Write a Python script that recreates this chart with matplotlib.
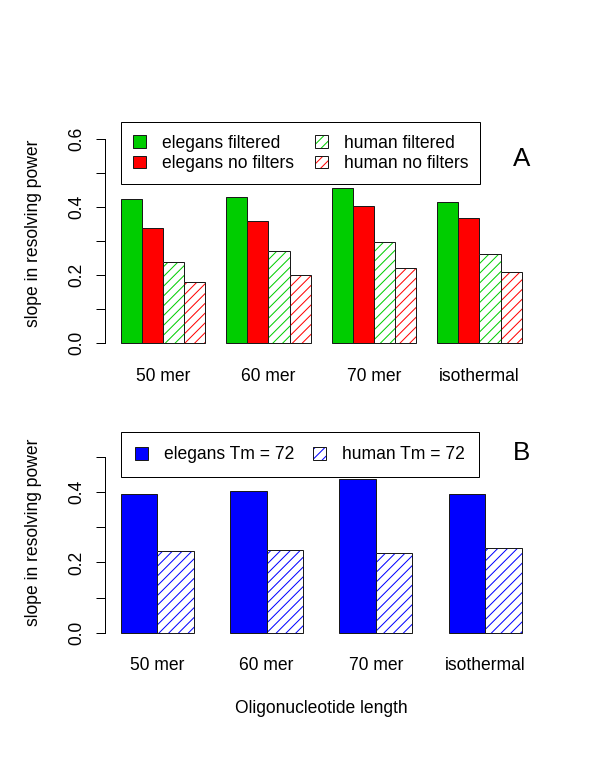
import numpy as np
import matplotlib
matplotlib.use("Agg")
import matplotlib.pyplot as plt

# ---------------- data ----------------
categories = ["50 mer", "60 mer", "70 mer", "isothermal"]
elegans_filtered = [0.424, 0.430, 0.457, 0.415]
elegans_no_filters = [0.339, 0.360, 0.402, 0.367]
human_filtered = [0.240, 0.272, 0.297, 0.263]
human_no_filters = [0.179, 0.200, 0.221, 0.208]
elegans_tm72 = [0.394, 0.403, 0.439, 0.394]
human_tm72 = [0.232, 0.235, 0.226, 0.240]

labels_a = ["elegans filtered", "elegans no filters", "human filtered", "human no filters"]
labels_b = ["elegans Tm = 72", "human Tm = 72"]
yticks_a = [0.0, 0.1, 0.2, 0.3, 0.4, 0.5, 0.6]
yticklabels_a = ["0.0", "", "0.2", "", "0.4", "", "0.6"]
yticks_b = [0.0, 0.1, 0.2, 0.3, 0.4, 0.5]
yticklabels_b = ["0.0", "", "0.2", "", "0.4", ""]
ylabel = "slope in resolving power"
xlabel = "Oligonucleotide length"

# ---------------- style ----------------
W, H, DPI = 600, 776, 88
def pt(px):
    return px * 72.0 / DPI
def fx(px):
    return px / W
def fy(py):
    return 1 - py / H

GREEN, RED, BLUE = "#00CD00", "#FF0000", "#0000FF"
EDGE = "#1a1a1a"
FS = pt(17.5)
plt.rcParams["font.family"] = ["Liberation Sans", "DejaVu Sans"]
plt.rcParams["hatch.linewidth"] = pt(1.0)

fig = plt.figure(figsize=(W / DPI, H / DPI), dpi=DPI)
fig.patch.set_facecolor("white")

# axes placement in pixels
left_px, right_px = 104.7, 537.7
axA = fig.add_axes([fx(left_px), fy(351.8), (right_px - left_px) / W, (351.8 - 122.0) / H])
axB = fig.add_axes([fx(left_px), fy(640.4), (right_px - left_px) / W, (640.4 - 432.6) / H])


def hatched_bars(ax, x, h, color):
    hb = ax.bar(x, h, width=1.0, align="edge", facecolor="white",
                edgecolor=color, linewidth=0, hatch="///")
    ob = ax.bar(x, h, width=1.0, align="edge", fill=False,
                edgecolor=EDGE, linewidth=pt(1.0))
    return (hb, ob)


def solid_bars(ax, x, h, color):
    return ax.bar(x, h, width=1.0, align="edge", facecolor=color,
                  edgecolor=EDGE, linewidth=pt(1.0))


def style_axes(ax, yticks, yticklabels, ytop):
    for s in ["top", "right", "bottom"]:
        ax.spines[s].set_visible(False)
    ax.spines["left"].set_bounds(0, ytop)
    ax.spines["left"].set_linewidth(pt(1.0))
    ax.set_yticks(yticks)
    ax.set_yticklabels(yticklabels, rotation=90, va="center", ha="right", fontsize=FS)
    ax.tick_params(axis="y", length=pt(9.5), width=pt(1.0), pad=pt(10))
    ax.tick_params(axis="x", length=0, labelsize=FS)


# ---------------- panel A ----------------
n = len(categories)
grp_a = 1 + 5 * np.arange(n)
bA1 = solid_bars(axA, grp_a + 0, elegans_filtered, GREEN)
bA2 = solid_bars(axA, grp_a + 1, elegans_no_filters, RED)
bA3 = hatched_bars(axA, grp_a + 2, human_filtered, GREEN)
bA4 = hatched_bars(axA, grp_a + 3, human_no_filters, RED)
axA.set_xlim(0.24, 20.76)
axA.set_ylim(-0.025, 0.65)
axA.set_xticks(grp_a + 2)
axA.set_xticklabels(categories)
axA.tick_params(axis="x", pad=pt(16))
style_axes(axA, yticks_a, yticklabels_a, 0.6)
axA.set_ylabel(ylabel, fontsize=FS)
axA.yaxis.label.set(ha="center", va="center", rotation_mode="default")
axA.yaxis.set_label_coords((33.5 - left_px) / (right_px - left_px), 0.517)

legA = axA.legend([bA1, bA2, bA3, bA4], labels_a, ncol=2, loc="upper left",
                  bbox_to_anchor=(fx(120.7), fy(122.3)), bbox_transform=fig.transFigure,
                  borderaxespad=0, fontsize=FS, frameon=True, fancybox=False,
                  edgecolor="black", framealpha=1, handlelength=0.75, handleheight=0.75,
                  handletextpad=0.9, columnspacing=1.2, labelspacing=0.2, borderpad=0.7)
legA.get_frame().set_linewidth(pt(1.0))

fig.text(fx(521.7), fy(165.7), "A", ha="center", va="baseline", fontsize=pt(26))

# ---------------- panel B ----------------
grp_b = 1 + 3 * np.arange(n)
bB1 = solid_bars(axB, grp_b + 0, elegans_tm72, BLUE)
bB2 = hatched_bars(axB, grp_b + 1, human_tm72, BLUE)
axB.set_xlim(0.56, 12.44)
axB.set_ylim(-0.022, 0.570)
axB.set_xticks(grp_b + 1)
axB.set_xticklabels(categories)
axB.tick_params(axis="x", pad=pt(17))
style_axes(axB, yticks_b, yticklabels_b, 0.5)
axB.set_ylabel(ylabel, fontsize=FS)
axB.yaxis.label.set(ha="center", va="center", rotation_mode="default")
axB.yaxis.set_label_coords((33.5 - left_px) / (right_px - left_px), 0.518)
axB.set_xlabel(xlabel, fontsize=FS)
axB.xaxis.label.set(va="baseline")
axB.xaxis.set_label_coords(0.5, (640.4 - 713.3) / (640.4 - 432.6))

legB = axB.legend([bB1, bB2], labels_b, ncol=2, loc="upper left",
                  bbox_to_anchor=(fx(120.7), fy(432.3)), bbox_transform=fig.transFigure,
                  borderaxespad=0, fontsize=FS, frameon=True, fancybox=False,
                  edgecolor="black", framealpha=1, handlelength=0.75, handleheight=0.75,
                  handletextpad=0.9, columnspacing=1.1, labelspacing=0.2, borderpad=0.8)
legB.get_frame().set_linewidth(pt(1.0))

fig.text(fx(521.7), fy(460.0), "B", ha="center", va="baseline", fontsize=pt(26))

fig.savefig("out.png", dpi=DPI, facecolor="white")
